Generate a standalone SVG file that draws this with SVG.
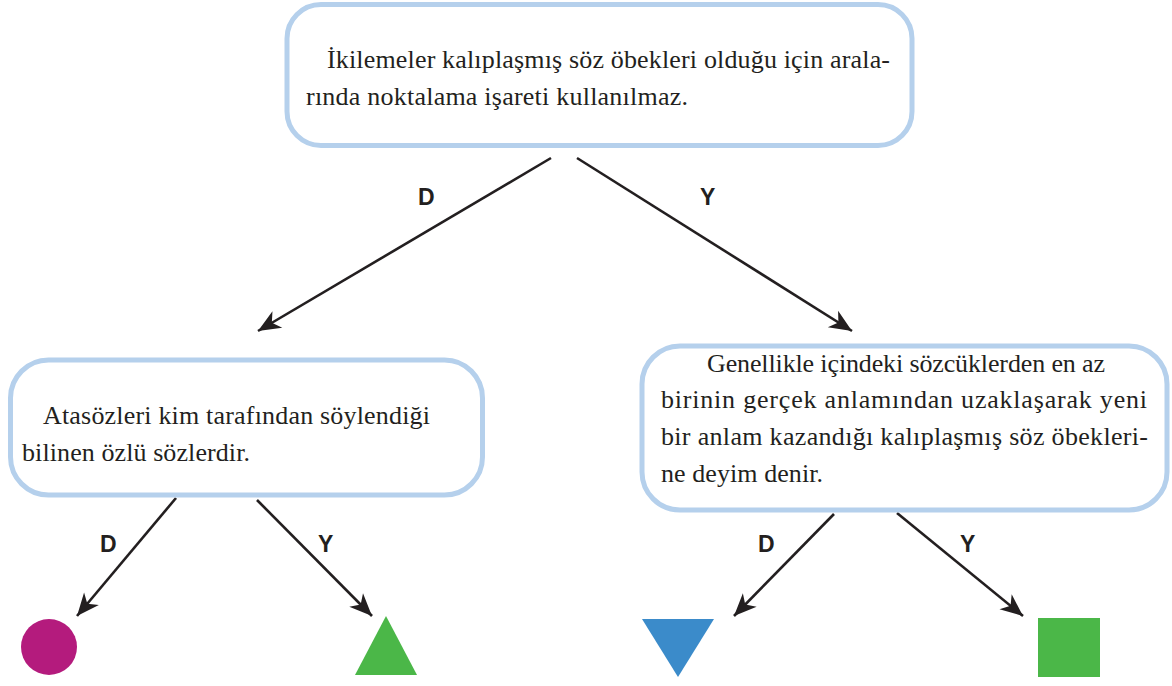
<svg xmlns="http://www.w3.org/2000/svg" width="1172" height="686" viewBox="0 0 1172 686">
<style>
.box{fill:#ffffff;stroke:#b5d0ec;stroke-width:5}
.txt{font-family:"Liberation Serif",Tinos,"Times New Roman","DejaVu Serif",serif;font-size:26px;fill:#231f20}
.lbl{font-family:"Liberation Sans",Arial,sans-serif;font-size:23px;font-weight:bold;fill:#231f20}
.conn{stroke:#231f20;stroke-width:2.6;fill:none;marker-end:url(#ah)}
</style>
<defs>
<marker id="ah" markerUnits="userSpaceOnUse" markerWidth="30" markerHeight="30" viewBox="-24 -12 28 24" refX="0" refY="0" orient="auto">
<path d="M0,0 L-21,-9 L-15,0 L-21,9 Z" fill="#231f20"/>
</marker>
</defs>
<rect width="1172" height="686" fill="#ffffff"/>
<g id="connectors">
<line class="conn" x1="551" y1="158" x2="258" y2="331"/>
<line class="conn" x1="577" y1="158" x2="852" y2="331"/>
<line class="conn" x1="176" y1="498" x2="77" y2="616"/>
<line class="conn" x1="257" y1="500" x2="372" y2="616"/>
<line class="conn" x1="834" y1="514" x2="734" y2="616"/>
<line class="conn" x1="897" y1="513" x2="1023" y2="616"/>
<text class="lbl" x="418" y="205">D</text>
<text class="lbl" x="700" y="205">Y</text>
<text class="lbl" x="100" y="552">D</text>
<text class="lbl" x="318" y="552">Y</text>
<text class="lbl" x="758" y="552">D</text>
<text class="lbl" x="960" y="552">Y</text>
</g>
<g id="node-top">
<rect class="box" x="287" y="4.5" width="625" height="141" rx="34"/>
<text class="txt" x="327" y="68" textLength="563">İkilemeler kalıplaşmış söz öbekleri olduğu için arala-</text>
<text class="txt" x="306" y="105" textLength="382">rında noktalama işareti kullanılmaz.</text>
</g>
<g id="node-left">
<rect class="box" x="10.5" y="360" width="472" height="135" rx="38"/>
<text class="txt" x="43" y="424" textLength="387">Atasözleri kim tarafından söylendiği</text>
<text class="txt" x="22" y="461" textLength="228">bilinen özlü sözlerdir.</text>
</g>
<g id="node-right">
<rect class="box" x="642" y="346" width="525" height="164" rx="38"/>
<text class="txt" x="707" y="372" textLength="398">Genellikle içindeki sözcüklerden en az</text>
<text class="txt" x="661" y="408" textLength="486">birinin gerçek anlamından uzaklaşarak yeni</text>
<text class="txt" x="661" y="445" textLength="487">bir anlam kazandığı kalıplaşmış söz öbekleri-</text>
<text class="txt" x="661" y="482" textLength="162">ne deyim denir.</text>
</g>
<g id="shape-circle"><circle cx="49" cy="647" r="28" fill="#b41b7d"/></g>
<g id="shape-triangle-up"><polygon points="386,616 355,675 417,675" fill="#4bb748"/></g>
<g id="shape-triangle-down"><polygon points="642,619 714,619 678,677" fill="#3b8bca"/></g>
<g id="shape-square"><rect x="1038" y="618" width="62" height="59" fill="#4bb748"/></g>
</svg>
